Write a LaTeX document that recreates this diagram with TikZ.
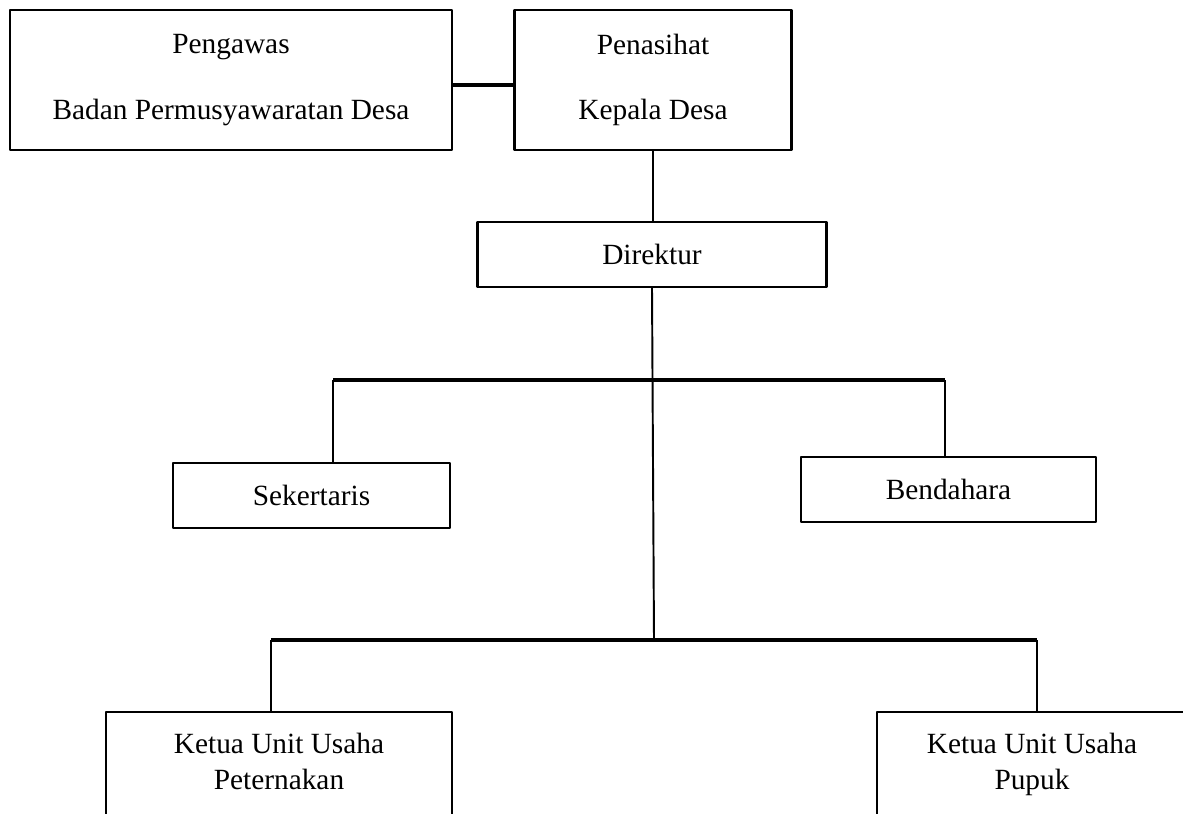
\documentclass[tikz,border=0pt]{standalone}
\usepackage{fontspec}
\setmainfont{Liberation Serif}
\begin{document}
\begin{tikzpicture}[x=0.02cm, y=-0.02cm, line join=round,
    font=\fontsize{16.7}{20.4}\selectfont,
    box/.style={draw, line width=1.3pt, align=center, inner sep=0pt},
    unitbox/.style={box, anchor=north, inner ysep=0.42cm, text depth=3cm},
    link/.style={line width=1.1pt},
    bar/.style={line width=2.3pt}]
    \useasboundingbox (0,0) rectangle (1183,814);
    \clip (0,0) rectangle (1183,814);
    % pengurus atas
    \node[box, minimum width=8.84cm, minimum height=2.8cm] (pengawas) at (231,80)
        {Pengawas\\[17pt]Badan Permusyawaratan Desa};
    \node[box, minimum width=5.54cm, minimum height=2.8cm] (penasihat) at (653,80)
        {Penasihat\\[17pt]Kepala Desa};
    \node[box, minimum width=6.98cm, minimum height=1.3cm] (direktur) at (652,254.5) {Direktur};
    \node[box, minimum width=5.54cm, minimum height=1.3cm] (sekertaris) at (311.5,495.5) {Sekertaris};
    \node[box, minimum width=5.9cm, minimum height=1.3cm] (bendahara) at (948.5,489.5) {Bendahara};
    \node[unitbox, minimum width=6.92cm] (peternakan) at (279,711) {Ketua Unit Usaha\\Peternakan};
    \node[unitbox, minimum width=6.2cm] (pupuk) at (1032,711) {Ketua Unit Usaha\\Pupuk};
    % garis
    \coordinate (staf-l) at (333,380);
    \coordinate (staf-r) at (945,380);
    \coordinate (unit-l) at (271,640);
    \coordinate (unit-r) at (1037,640);
    \coordinate (unit-m) at (654,640);
    \draw[bar] ([yshift=-0.1cm]pengawas.east) -- ([yshift=-0.1cm]penasihat.west);
    \draw[link] (penasihat.south) -- (penasihat.south |- direktur.north);
    \draw[link] (direktur.south) -- (unit-m);
    \draw[bar] (staf-l) -- (staf-r);
    \draw[bar] (unit-l) -- (unit-r);
    \draw[link] (staf-l) -- (staf-l |- sekertaris.north);
    \draw[link] (staf-r) -- (staf-r |- bendahara.north);
    \draw[link] (unit-l) -- (unit-l |- peternakan.north);
    \draw[link] (unit-r) -- (unit-r |- pupuk.north);
\end{tikzpicture}
\end{document}
